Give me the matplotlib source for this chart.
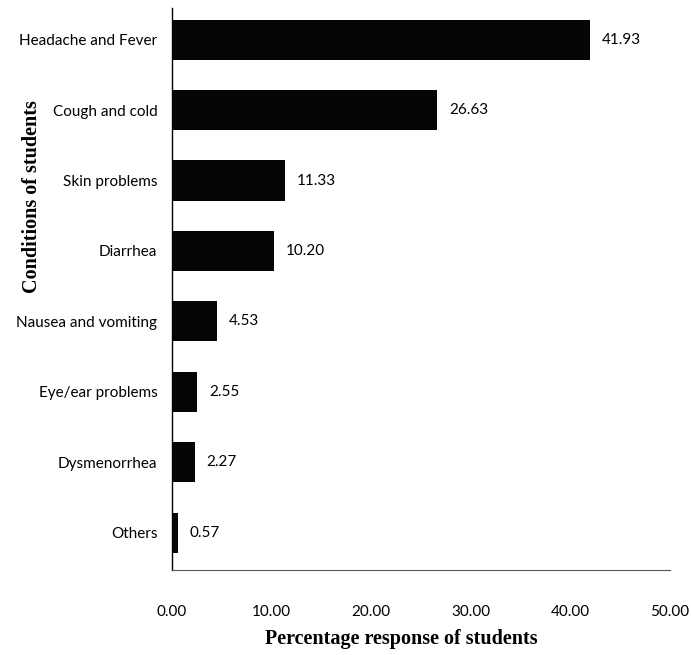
import matplotlib.pyplot as plt

# survey results (percent of students reporting each condition)
conditions = ["Headache and Fever", "Cough and cold", "Skin problems", "Diarrhea",
              "Nausea and vomiting", "Eye/ear problems", "Dysmenorrhea", "Others"]
percentages = [41.93, 26.63, 11.33, 10.20, 4.53, 2.55, 2.27, 0.57]
x_ticks = [0, 10, 20, 30, 40, 50]

fig = plt.figure(figsize=(6.91, 6.55), dpi=100)
ax = fig.add_axes([0.249, 0.1298, 0.7207, 0.858])

# first category on top
y_pos = list(range(len(conditions)))[::-1]
ax.barh(y_pos, percentages, height=0.57, color="#050505")

for y, v in zip(y_pos, percentages):
    ax.text(v + 1.2, y, f"{v:.2f}", va="center", ha="left",
            fontsize=11, family="Lato", color="black")

ax.set_xlim(0, 50)
ax.set_ylim(-0.53, 7.45)
ax.set_yticks(y_pos)
ax.set_yticklabels(conditions, family="Lato", fontsize=11)
ax.set_xticks(x_ticks)
ax.set_xticklabels([f"{t:.2f}" for t in x_ticks], family="Lato", fontsize=11)
ax.tick_params(axis="y", length=0, pad=10.5)
ax.tick_params(axis="x", length=0, pad=25)

ax.spines["top"].set_visible(False)
ax.spines["right"].set_visible(False)
ax.spines["left"].set_linewidth(1.0)
ax.spines["bottom"].set_linewidth(0.8)
ax.spines["bottom"].set_color("#555555")

ax.set_xlabel("Percentage response of students", family="Liberation Serif",
              fontweight="bold", fontsize=14.5)
ax.set_ylabel("Conditions of students", family="Liberation Serif",
              fontweight="bold", fontsize=14.5)
ax.xaxis.set_label_coords(0.46, -0.105)
ax.yaxis.set_label_coords(-0.261, 0.664)

fig.savefig("out.png", dpi=100)
